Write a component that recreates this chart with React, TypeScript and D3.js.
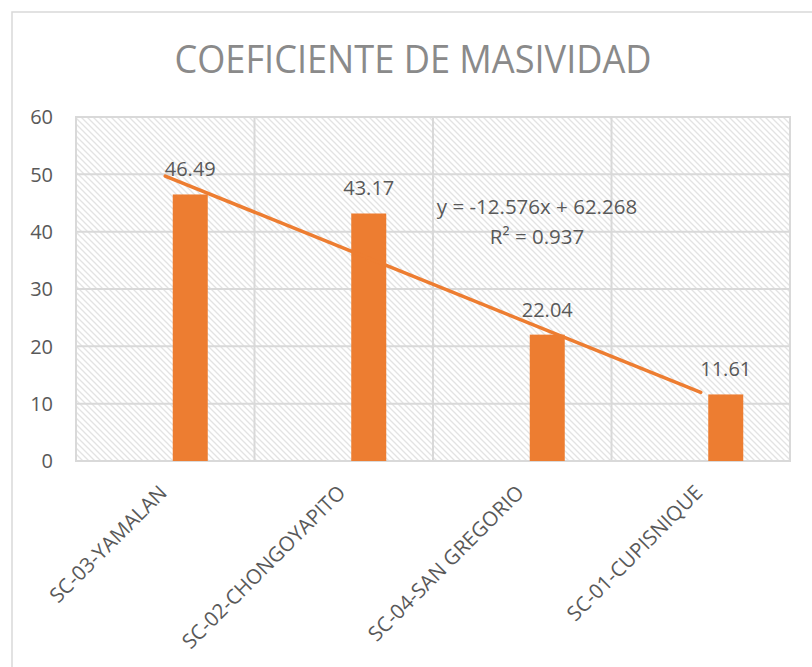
import { scaleBand, scaleLinear, line } from "d3";

const width = 812;
const height = 667;

const categories = [
  "SC-03-YAMALAN",
  "SC-02-CHONGOYAPITO",
  "SC-04-SAN GREGORIO",
  "SC-01-CUPISNIQUE",
];
const values = [46.49, 43.17, 22.04, 11.61];
const yTicks = [0, 10, 20, 30, 40, 50, 60];
// linear trendline shown by the original chart
const slope = -12.576;
const intercept = 62.268;
const equation = "y = -12.576x + 62.268";
const rSquared = "R² = 0.937";

const orange = "#ED7D31";
const textColor = "#595959";
const gridColor = "#d9d9d9";
const font = "'Open Sans', sans-serif";

const plot = { left: 76, top: 117, right: 790, bottom: 461 };
const barWidth = 35;
const barShift = 25;

const App = () => {
  const xScale = scaleBand()
    .domain(categories)
    .range([plot.left, plot.right]);
  const yScale = scaleLinear().domain([0, 60]).range([plot.bottom, plot.top]);
  const center = (c) => xScale(c) + xScale.bandwidth() / 2;

  const trendPts = [1, categories.length].map((i) => ({
    x: center(categories[i - 1]),
    y: yScale(slope * i + intercept),
  }));
  const trendPath = line()
    .x((d) => d.x)
    .y((d) => d.y)(trendPts);

  return (
    <svg
      width={width}
      height={height}
      style={{ position: "absolute", left: 0, top: 0, background: "#fff" }}
    >
      <defs>
        <pattern
          id="hatch"
          width={6}
          height={6}
          patternUnits="userSpaceOnUse"
        >
          <rect width={6} height={6} fill="#fff" />
          <path d="M-1,-1 L7,7 M-1,5 L1,7 M5,-1 L7,1" stroke="#e3e3e3" strokeWidth={1.3} />
        </pattern>
      </defs>
      <rect x={12} y={12} width={width} height={height} fill="#fff" stroke={gridColor} strokeWidth={1.5} />
      <text
        x={413}
        y={73}
        textAnchor="middle"
        fontFamily={font}
        fontSize={39}
        fill="#8a8a8a"
        textLength={477}
        lengthAdjust="spacingAndGlyphs"
      >
        COEFICIENTE DE MASIVIDAD
      </text>

      <rect
        x={plot.left}
        y={plot.top}
        width={plot.right - plot.left}
        height={plot.bottom - plot.top}
        fill="url(#hatch)"
        stroke={gridColor}
        strokeWidth={2}
      />
      {yTicks.map((t) => (
        <g key={t}>
          <line x1={plot.left} x2={plot.right} y1={yScale(t)} y2={yScale(t)} stroke={gridColor} strokeWidth={2} />
          <text
            x={53}
            y={yScale(t)}
            dy="0.36em"
            textAnchor="end"
            fontFamily={font}
            fontSize={20}
            fill={textColor}
          >
            {t}
          </text>
        </g>
      ))}
      {categories.map((c) => (
        <line key={c} x1={xScale(c)} x2={xScale(c)} y1={plot.top} y2={plot.bottom} stroke={gridColor} strokeWidth={2} />
      ))}

      {categories.map((c, i) => (
        <g key={c}>
          <rect
            x={center(c) + barShift - barWidth / 2}
            y={yScale(values[i])}
            width={barWidth}
            height={yScale(0) - yScale(values[i])}
            fill={orange}
          />
          <text
            x={center(c) + barShift}
            y={yScale(values[i]) - 18}
            textAnchor="middle"
            fontFamily={font}
            fontSize={20}
            fill={textColor}
          >
            {values[i].toFixed(2)}
          </text>
          <text
            transform={`translate(${center(c) + 3},${plot.bottom + 33}) rotate(-45)`}
            textAnchor="end"
            fontFamily={font}
            fontSize={20.5}
            fill={textColor}
          >
            {c}
          </text>
        </g>
      ))}

      <path d={trendPath} stroke={orange} strokeWidth={3.5} fill="none" strokeLinecap="round" />
      <text x={537} y={214} textAnchor="middle" fontFamily={font} fontSize={20.5} fill={textColor}>
        {equation}
      </text>
      <text x={537} y={244} textAnchor="middle" fontFamily={font} fontSize={20.5} fill={textColor}>
        {rSquared}
      </text>
    </svg>
  );
};

export default App;
